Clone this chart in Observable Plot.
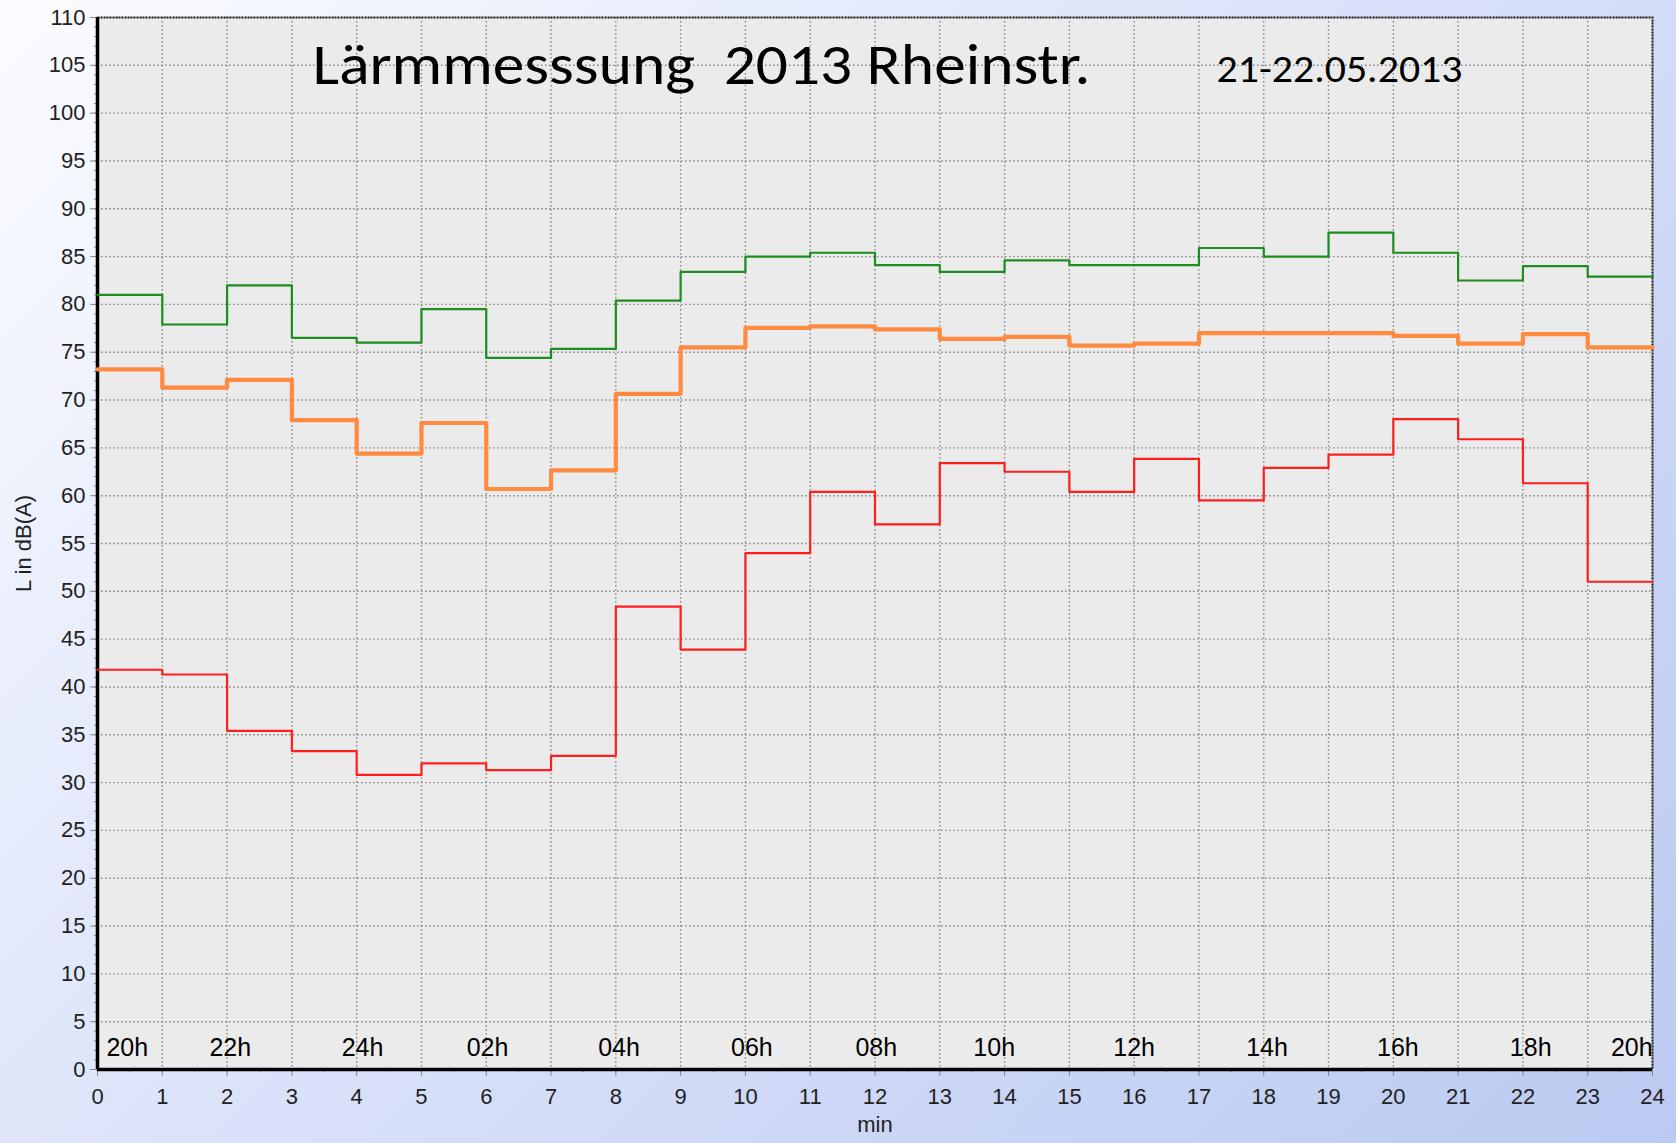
<!DOCTYPE html>
<html>
<head>
<meta charset="utf-8">
<script src="https://cdn.jsdelivr.net/npm/d3@7"></script>
<script src="https://cdn.jsdelivr.net/npm/@observablehq/plot@0.6"></script>
<style>
  html, body { margin: 0; padding: 0; }
  body {
    width: 1676px; height: 1143px; overflow: hidden;
    background: linear-gradient(135deg, #fbfcff 0%, #e3e9fb 35%, #ccd7f6 70%, #bccaf2 100%);
  }
  svg text { white-space: pre; }
</style>
</head>
<body>
<div id="chart"></div>
<script>
// ---- data ----
const minuteTicks = d3.range(0, 25);
const levelTicks = d3.range(0, 111, 5);
const maxLevel = [81.0, 77.9, 82.0, 76.5, 76.0, 79.5, 74.4, 75.35, 80.4, 83.4, 85.0, 85.4, 84.1, 83.4, 84.6, 84.1, 84.1, 85.9, 85.0, 87.5, 85.4, 82.5, 84.0, 82.9];
const avgLevel = [73.2, 71.3, 72.1, 67.9, 64.4, 67.6, 60.7, 62.65, 70.65, 75.5, 77.55, 77.7, 77.4, 76.4, 76.6, 75.7, 75.9, 77.0, 77.0, 77.0, 76.7, 75.9, 76.9, 75.5];
const minLevel = [41.8, 41.3, 35.4, 33.3, 30.8, 32.0, 31.3, 32.8, 48.4, 43.9, 54.0, 60.4, 57.0, 63.4, 62.5, 60.4, 63.85, 59.5, 62.9, 64.3, 68.0, 65.9, 61.3, 51.0];
const hourLabels = ["20h", "22h", "24h", "02h", "04h", "06h", "08h", "10h", "12h", "14h", "16h", "18h", "20h"];
const hourPos = [0.46, 2.05, 4.09, 6.02, 8.05, 10.1, 12.02, 13.84, 16.0, 18.05, 20.07, 22.12, 23.68];
const titleText = "Lärmmesssung  2013 Rheinstr.";
const dateText = "21-22.05.2013";

// step series: each value holds for one minute; repeat last to close at 24
function steps(vals) {
  return d3.range(0, vals.length + 1).map(i => ({x: i, y: vals[Math.min(i, vals.length - 1)]}));
}
const hours = hourLabels.map((t, i) => ({t, x: hourPos[i]}));

const chart = Plot.plot({
  width: 1676,
  height: 1143,
  marginLeft: 97,
  marginRight: 24,
  marginTop: 17,
  marginBottom: 74,
  style: {background: "transparent", fontFamily: "'Liberation Sans', Arial, sans-serif", fontSize: "20px", color: "#222", overflow: "visible"},
  x: {domain: [0, 24]},
  y: {domain: [0, 110]},
  marks: [
    Plot.frame({fill: "#ebebeb", stroke: null}),
    Plot.gridX(minuteTicks, {stroke: "#858585", strokeOpacity: 1, strokeWidth: 1.4, strokeDasharray: "1.5,2.5"}),
    Plot.gridY(levelTicks, {stroke: "#858585", strokeOpacity: 1, strokeWidth: 1.4, strokeDasharray: "1.5,2.5"}),
    Plot.frame({stroke: "#222", strokeWidth: 2, strokeDasharray: "2,1"}),
    Plot.axisX(d3.range(0, 24.5, 0.5), {tickSize: 3, text: null, stroke: "#888", label: null}),
    Plot.axisY(d3.range(0, 111, 1), {tickSize: 3, text: null, stroke: "#888", label: null}),
    Plot.axisX(minuteTicks, {tickSize: 7, tickPadding: 12, stroke: "#888", fill: "#222", fontSize: 22,
      label: "min", labelAnchor: "center", labelArrow: "none", labelOffset: 62}),
    Plot.axisY(levelTicks, {tickSize: 7, tickPadding: 5, stroke: "#888", fill: "#222", fontSize: 22,
      label: "L in dB(A)", labelAnchor: "center", labelArrow: "none", labelOffset: 82}),
    Plot.ruleX([0], {stroke: "#000", strokeWidth: 3.5}),
    Plot.ruleY([0], {stroke: "#000", strokeWidth: 3.5}),
    Plot.line(steps(maxLevel), {x: "x", y: "y", curve: "step-after", stroke: "#1e8c1e", strokeWidth: 2.2}),
    Plot.line(steps(avgLevel), {x: "x", y: "y", curve: "step-after", stroke: "#ff8a40", strokeWidth: 4.2}),
    Plot.line(steps(minLevel), {x: "x", y: "y", curve: "step-after", stroke: "#ff1e1e", strokeWidth: 2.2}),
    Plot.text(hours, {x: "x", text: "t", frameAnchor: "bottom", dy: -22, lineAnchor: "middle", fontSize: 25, fill: "#000"}),
    Plot.text([titleText], {frameAnchor: "top-left", dx: 215, dy: 48, lineAnchor: "middle", textAnchor: "start",
      fontSize: 57, fill: "#000", fontFamily: "Carlito, Calibri, 'Open Sans', sans-serif", className: "title-txt"}),
    Plot.text([dateText], {frameAnchor: "top-left", dx: 1119, dy: 52, lineAnchor: "middle", textAnchor: "start",
      fontSize: 38, fill: "#000", fontFamily: "Carlito, Calibri, 'Open Sans', sans-serif", className: "date-txt"})
  ]
});
document.getElementById("chart").appendChild(chart);

// fit text widths to the reference's narrow typeface
function fitWidth(cls, w) {
  chart.querySelectorAll("." + cls + " text").forEach(t => {
    t.setAttribute("textLength", w);
    t.setAttribute("lengthAdjust", "spacingAndGlyphs");
  });
}
fitWidth("title-txt", 778);
fitWidth("date-txt", 246);
</script>
</body>
</html>
